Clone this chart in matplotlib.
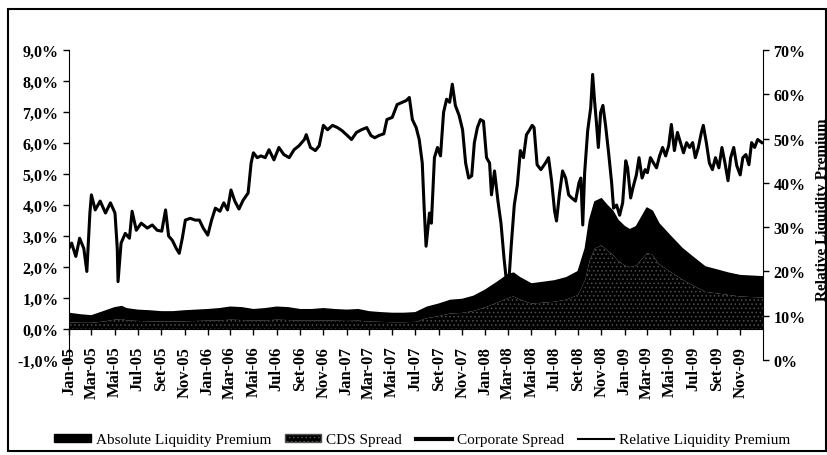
import pandas as pd
import matplotlib
matplotlib.use("Agg")
import matplotlib.pyplot as plt
from matplotlib.patches import Patch, Rectangle
from matplotlib.lines import Line2D
from matplotlib.ticker import FuncFormatter

plt.rcParams["font.family"] = ["Liberation Serif", "DejaVu Serif"]
plt.rcParams["hatch.linewidth"] = 0.6

# Relative liquidity premium (%, right axis)
rlp_dates = [
    "2005-01-01", "2005-01-08", "2005-01-19", "2005-01-29", "2005-02-09", "2005-02-17", "2005-02-25",
    "2005-03-01", "2005-03-11", "2005-03-24", "2005-04-07", "2005-04-20", "2005-05-02", "2005-05-08",
    "2005-05-10", "2005-05-18", "2005-05-29", "2005-06-09", "2005-06-16", "2005-06-27", "2005-07-10",
    "2005-07-26", "2005-08-08", "2005-08-21", "2005-09-02", "2005-09-12", "2005-09-20", "2005-09-30",
    "2005-10-10", "2005-10-18", "2005-10-26", "2005-11-03", "2005-11-16", "2005-11-29", "2005-12-10",
    "2005-12-20", "2006-01-01", "2006-01-11", "2006-01-21", "2006-02-02", "2006-02-12", "2006-02-22",
    "2006-03-03", "2006-03-13", "2006-03-24", "2006-04-04", "2006-04-17", "2006-04-25", "2006-05-01",
    "2006-05-11", "2006-05-21", "2006-06-01", "2006-06-11", "2006-06-24", "2006-07-07", "2006-07-20",
    "2006-08-03", "2006-08-16", "2006-08-29", "2006-09-12", "2006-09-17", "2006-09-28", "2006-10-11",
    "2006-10-21", "2006-11-01", "2006-11-12", "2006-11-25", "2006-12-08", "2006-12-20", "2007-01-03",
    "2007-01-14", "2007-01-27", "2007-02-09", "2007-02-23", "2007-03-06", "2007-03-16", "2007-03-27",
    "2007-04-09", "2007-04-17", "2007-05-01", "2007-05-14", "2007-05-27", "2007-06-07", "2007-06-15",
    "2007-06-23", "2007-07-03", "2007-07-11", "2007-07-19", "2007-07-24", "2007-07-29", "2007-08-07",
    "2007-08-12", "2007-08-20", "2007-08-28", "2007-09-05", "2007-09-13", "2007-09-21", "2007-09-29",
    "2007-10-06", "2007-10-14", "2007-10-24", "2007-11-02", "2007-11-10", "2007-11-18", "2007-11-26",
    "2007-12-03", "2007-12-11", "2007-12-19", "2007-12-27", "2008-01-04", "2008-01-12", "2008-01-17",
    "2008-01-25", "2008-02-03", "2008-02-11", "2008-02-19", "2008-02-24", "2008-03-01", "2008-03-04",
    "2008-03-09", "2008-03-17", "2008-03-25", "2008-04-02", "2008-04-10", "2008-04-18", "2008-04-25",
    "2008-05-03", "2008-05-08", "2008-05-16", "2008-05-26", "2008-06-07", "2008-06-15", "2008-06-23",
    "2008-07-01", "2008-07-06", "2008-07-14", "2008-07-22", "2008-07-30", "2008-08-07", "2008-08-15",
    "2008-08-25", "2008-09-03", "2008-09-08", "2008-09-13", "2008-09-18", "2008-09-26", "2008-10-04",
    "2008-10-09", "2008-10-14", "2008-10-19", "2008-10-24", "2008-10-30", "2008-11-05", "2008-11-12",
    "2008-11-20", "2008-11-28", "2008-12-03", "2008-12-11", "2008-12-19", "2008-12-27", "2009-01-04",
    "2009-01-09", "2009-01-17", "2009-01-23", "2009-02-01", "2009-02-08", "2009-02-16", "2009-02-24",
    "2009-03-02", "2009-03-10", "2009-03-18", "2009-03-26", "2009-04-03", "2009-04-11", "2009-04-19",
    "2009-04-27", "2009-05-04", "2009-05-12", "2009-05-20", "2009-05-28", "2009-06-05", "2009-06-13",
    "2009-06-21", "2009-06-29", "2009-07-06", "2009-07-14", "2009-07-22", "2009-07-27", "2009-08-04",
    "2009-08-12", "2009-08-20", "2009-08-28", "2009-09-06", "2009-09-14", "2009-09-22", "2009-09-30",
    "2009-10-07", "2009-10-15", "2009-10-23", "2009-11-01", "2009-11-08", "2009-11-16", "2009-11-24",
    "2009-12-01", "2009-12-09", "2009-12-17", "2009-12-28",
]
rlp_values = [
    25.2, 26.4, 23.4, 27.5, 25.2, 20.0, 33.2,
    37.3, 33.9, 35.9, 33.2, 35.5, 33.2, 25.2,
    17.7, 26.4, 28.6, 27.5, 33.6, 29.3, 30.9,
    29.8, 30.5, 29.3, 29.1, 33.9, 28.0, 27.0,
    25.2, 24.1, 27.5, 31.6, 32.0, 31.6, 31.6,
    29.8, 28.2, 31.6, 34.3, 33.6, 35.5, 33.9,
    38.4, 35.9, 34.1, 36.1, 37.7, 44.5, 46.8,
    45.7, 46.1, 45.7, 47.5, 45.2, 48.0, 46.4,
    45.7, 47.5, 48.4, 49.8, 50.9, 48.0, 47.3,
    48.4, 53.0, 52.0, 53.0, 52.5, 51.8, 50.7,
    49.8, 51.4, 52.0, 52.5, 50.7, 50.2, 50.7,
    51.1, 54.3, 54.8, 57.7, 58.2, 58.6, 59.3,
    54.3, 52.5, 49.8, 44.5, 34.3, 25.7, 33.2,
    30.9, 45.7, 48.0, 46.1, 55.9, 58.9, 58.2,
    62.3, 57.5, 55.2, 52.0, 44.5, 41.1, 41.6,
    49.1, 52.5, 54.3, 53.9, 45.7, 44.5, 37.3,
    42.7, 35.9, 30.9, 23.0, 18.9, 18.0, 19.5,
    25.9, 35.0, 39.5, 47.3, 45.7, 50.9, 51.8,
    53.0, 52.5, 44.1, 43.0, 44.5, 45.7, 40.5,
    33.6, 31.4, 37.7, 42.7, 41.1, 37.3, 36.6,
    35.9, 40.0, 41.1, 30.5, 42.3, 51.8, 57.0,
    64.5, 58.6, 53.6, 48.0, 55.9, 57.5, 53.0,
    46.8, 40.0, 34.3, 35.0, 32.7, 35.5, 45.0,
    43.4, 36.6, 38.9, 41.8, 45.7, 41.1, 43.0,
    42.3, 45.7, 44.5, 43.4, 46.1, 48.0, 46.1,
    48.4, 53.2, 47.3, 51.4, 49.1, 46.8, 49.1,
    48.0, 49.1, 45.7, 48.0, 51.4, 53.0, 49.1,
    44.5, 43.0, 45.7, 43.4, 48.0, 44.5, 40.5,
    45.7, 48.0, 43.9, 41.8, 45.7, 46.4, 44.1,
    49.1, 48.0, 49.8, 49.1,
]

# Spreads (%, left axis)
spread_dates = [
    "2005-01-01", "2005-02-01", "2005-03-01", "2005-04-01", "2005-05-01", "2005-05-20", "2005-06-01",
    "2005-07-01", "2005-08-01", "2005-09-01", "2005-10-01", "2005-11-01", "2005-12-01", "2006-01-01",
    "2006-02-01", "2006-03-01", "2006-04-01", "2006-05-01", "2006-06-01", "2006-07-01", "2006-08-01",
    "2006-09-01", "2006-10-01", "2006-11-01", "2006-12-01", "2007-01-01", "2007-02-01", "2007-03-01",
    "2007-04-01", "2007-05-01", "2007-06-01", "2007-07-01", "2007-08-01", "2007-09-01", "2007-10-01",
    "2007-11-01", "2007-12-01", "2008-01-01", "2008-02-01", "2008-03-01", "2008-03-15", "2008-04-01",
    "2008-05-01", "2008-06-01", "2008-07-01", "2008-08-01", "2008-09-01", "2008-09-20", "2008-10-01",
    "2008-10-15", "2008-11-01", "2008-11-15", "2008-12-01", "2008-12-15", "2009-01-01", "2009-01-15",
    "2009-02-01", "2009-02-15", "2009-03-01", "2009-03-15", "2009-04-01", "2009-05-01", "2009-06-01",
    "2009-07-01", "2009-08-01", "2009-09-01", "2009-10-01", "2009-11-01", "2009-12-01", "2009-12-31",
]
corporate_spread = [
    0.50, 0.45, 0.42, 0.55, 0.68, 0.72, 0.65,
    0.60, 0.58, 0.55, 0.55, 0.58, 0.60, 0.62,
    0.65, 0.70, 0.68, 0.62, 0.65, 0.70, 0.68,
    0.62, 0.62, 0.65, 0.62, 0.60, 0.62, 0.55,
    0.52, 0.50, 0.50, 0.52, 0.70, 0.80, 0.92,
    0.95, 1.05, 1.25, 1.50, 1.75, 1.80, 1.65,
    1.45, 1.50, 1.55, 1.65, 1.85, 2.60, 3.50,
    4.10, 4.20, 4.00, 3.80, 3.50, 3.30, 3.20,
    3.30, 3.60, 3.90, 3.80, 3.40, 3.00, 2.60,
    2.30, 2.00, 1.90, 1.80, 1.72, 1.70, 1.68,
]
cds_spread = [
    0.22, 0.20, 0.20, 0.24, 0.30, 0.32, 0.28,
    0.26, 0.25, 0.24, 0.24, 0.25, 0.26, 0.27,
    0.28, 0.30, 0.29, 0.27, 0.28, 0.30, 0.29,
    0.27, 0.27, 0.28, 0.27, 0.26, 0.27, 0.24,
    0.23, 0.22, 0.22, 0.23, 0.35, 0.42, 0.50,
    0.52, 0.58, 0.70, 0.85, 1.00, 1.05, 0.95,
    0.82, 0.85, 0.88, 0.95, 1.10, 1.60, 2.20,
    2.60, 2.70, 2.55, 2.40, 2.20, 2.05, 2.00,
    2.05, 2.25, 2.45, 2.40, 2.10, 1.85, 1.60,
    1.40, 1.20, 1.15, 1.10, 1.05, 1.03, 1.02,
]

month_names = ["Jan", "Fev", "Mar", "Abr", "Mai", "Jun", "Jul", "Ago", "Set", "Out", "Nov", "Dez"]


def main():
    rlp_x = pd.to_datetime(rlp_dates)
    sp_x = pd.to_datetime(spread_dates)

    fig = plt.figure(figsize=(8.28, 4.56), dpi=100)
    ax = fig.add_axes([0.0833, 0.2083, 0.8382, 0.6797])
    ax2 = ax.twinx()

    # areas: CDS at the bottom, liquidity premium stacked on top
    ax.fill_between(sp_x, 0, cds_spread, facecolor="black", edgecolor="#505050",
                    hatch="....", linewidth=0)
    ax.fill_between(sp_x, cds_spread, corporate_spread, facecolor="black", linewidth=0)
    ax.plot(sp_x, corporate_spread, color="black", linewidth=1.2)

    ax2.plot(rlp_x, rlp_values, color="black", linewidth=2.2)

    ax.set_xlim(pd.Timestamp("2005-01-01"), pd.Timestamp("2009-12-31"))
    ax.set_ylim(-1, 9)
    ax.set_yticks(range(-1, 10))
    ax.yaxis.set_major_formatter(FuncFormatter(lambda v, p: f"{v:.1f}%".replace(".", ",")))
    ax2.set_ylim(0, 70)
    ax2.set_yticks(range(0, 80, 10))
    ax2.yaxis.set_major_formatter(FuncFormatter(lambda v, p: f"{v:.0f}%"))

    ticks = pd.date_range("2005-01-01", "2009-11-01", freq="2MS")
    ax.set_xticks(ticks)
    ax.set_xticklabels([f"{month_names[t.month - 1]}-{t.year % 100:02d}" for t in ticks])
    ax.spines["bottom"].set_position(("data", 0))
    ax.spines["top"].set_visible(False)
    ax.spines["right"].set_visible(False)
    ax2.spines["top"].set_visible(False)
    ax2.spines["left"].set_visible(False)
    ax2.spines["bottom"].set_visible(False)
    for a in (ax, ax2):
        a.tick_params(direction="out", length=4, width=1, labelsize=11.5)
        for lab in a.get_yticklabels():
            lab.set_fontweight("bold")
    ax.tick_params(axis="x", labelrotation=90, pad=8, labelsize=12)
    for lab in ax.get_xticklabels():
        lab.set_fontweight("bold")

    fig.text(0.993, 0.54, "Relative Liquidity Premium", rotation=90, ha="center", va="center",
             fontsize=11, fontweight="bold")

    handles = [
        Patch(facecolor="black", edgecolor="black"),
        Patch(facecolor="black", edgecolor="#505050", hatch="...."),
        Line2D([], [], color="black", linewidth=3),
        Line2D([], [], color="black", linewidth=1.5),
    ]
    labels = ["Absolute Liquidity Premium", "CDS Spread", "Corporate Spread",
              "Relative Liquidity Premium"]
    fig.legend(handles, labels, loc="center", bbox_to_anchor=(0.51, 0.033), ncol=4,
               frameon=False, fontsize=11, handlelength=2.4, handleheight=0.5,
               handletextpad=0.3, columnspacing=0.9)

    fig.add_artist(Rectangle((0.01, 0.008), 0.988, 0.97, transform=fig.transFigure,
                             fill=False, edgecolor="black", linewidth=1.5))

    fig.savefig("out.png", dpi=100)


if __name__ == "__main__":
    main()
